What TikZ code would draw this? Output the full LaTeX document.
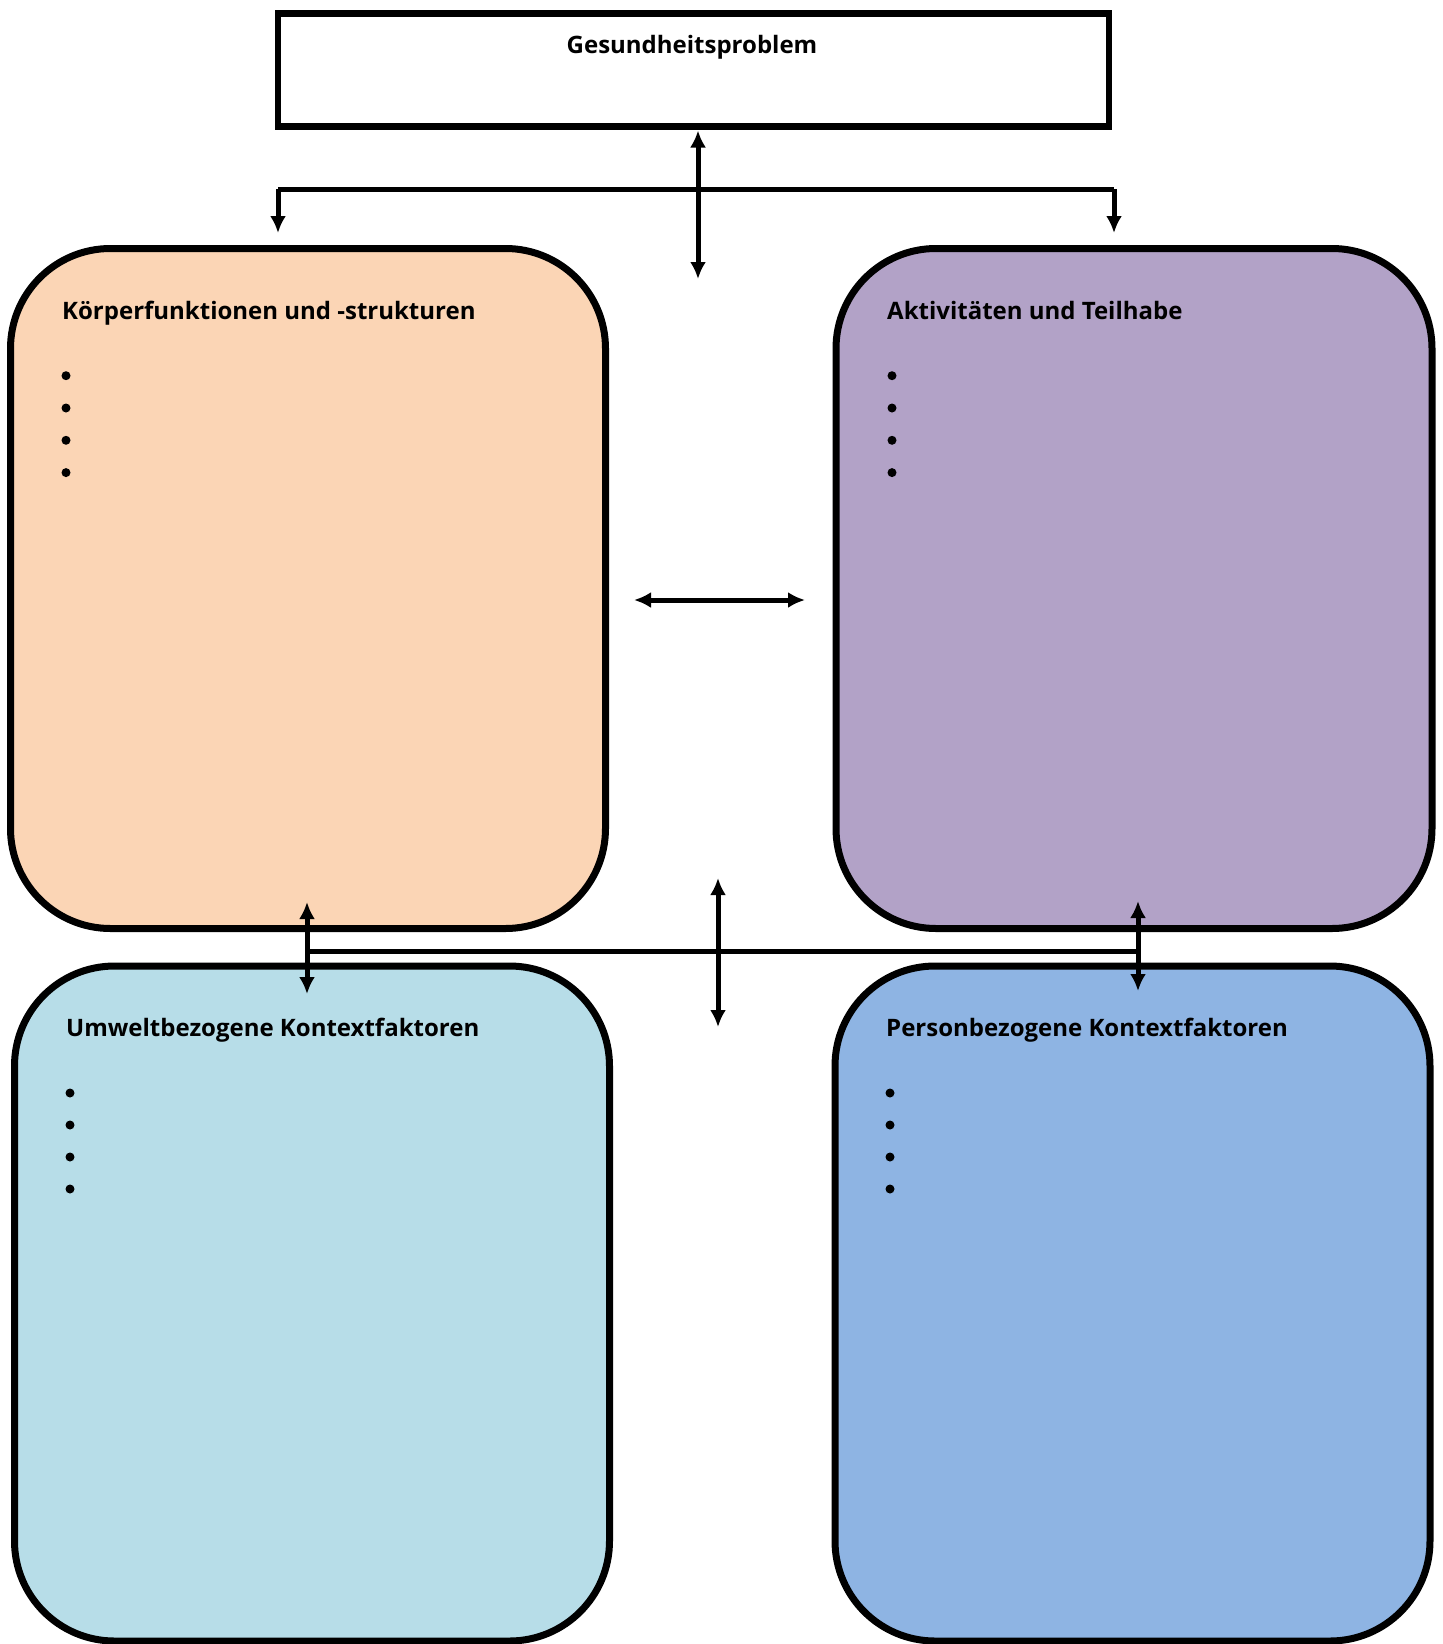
\documentclass[tikz,border=0pt]{standalone}
\usepackage{fontspec}
\setmainfont{Open Sans}
\usetikzlibrary{arrows.meta}
\definecolor{korange}{HTML}{FBD5B5}
\definecolor{kpurple}{HTML}{B2A2C7}
\definecolor{kaqua}{HTML}{B7DDE8}
\definecolor{kblue}{HTML}{8EB4E3}

\begin{document}
\begin{tikzpicture}[x=1pt,y=-1pt,
  fieldbox/.style={draw,line width=7pt,rounded corners=100pt,anchor=north west,
    inner sep=0pt,outer sep=0pt,minimum width=595pt},
  title/.style={font=\fontsize{24}{28}\selectfont\bfseries,anchor=base west,inner sep=0pt},
  bul/.style={circle,fill,inner sep=0pt,minimum size=9pt},
  conn/.style={line width=5pt},
  dbl/.style={conn,{Latex[length=17pt,width=16pt]}-{Latex[length=17pt,width=16pt]}},
  sgl/.style={conn,-{Latex[length=17pt,width=16pt]}}]

\useasboundingbox (0,0) rectangle (1443,1644);

%top box:
\node[draw,line width=6.5pt,inner sep=0pt,outer sep=0pt,minimum width=831pt,minimum height=113pt,
  anchor=north west] (gp) at (278,13.5) {};
\node[font=\fontsize{24}{28}\selectfont\bfseries,anchor=base,inner sep=0pt] (gptext) at (692,53) {Gesundheitsproblem};

%four fields
\node[fieldbox,fill=korange,minimum height=680pt] (kf) at (10.5,248.5) {};
\node[fieldbox,fill=kpurple,minimum width=596pt,minimum height=680pt] (at) at (836,248.5) {};
\node[fieldbox,fill=kaqua,minimum height=675pt] (uk) at (14.5,966) {};
\node[fieldbox,fill=kblue,minimum height=675pt] (pk) at (835,966) {};

\node[title] (kft) at (62,319) {Körperfunktionen und -strukturen};
\node[title] (att) at (887,319) {Aktivitäten und Teilhabe};
\node[title] (ukt) at (66,1036) {Umweltbezogene Kontextfaktoren};
\node[title] (pkt) at (886,1036) {Personbezogene Kontextfaktoren};

%bullets
\foreach \i in {0,...,3} {
  \node[bul] (kfb\i) at (66,375.7+32.3*\i) {};
  \node[bul] (atb\i) at (892,375.7+32.3*\i) {};
  \node[bul] (ukb\i) at (70,1093+32*\i) {};
  \node[bul] (pkb\i) at (890,1093+32*\i) {};
}

%connectors top
\coordinate (hub) at (698,279);
\coordinate (tl) at (278,189.3);
\coordinate (tr) at (1114,189.3);
\coordinate (tlend) at (278,233);
\coordinate (trend) at (1114,233);
\draw[dbl,shorten <=4pt] (gp.south -| hub) -- (hub);
\draw[conn] (tl) -- (tr);
\draw[sgl] (tl) -- (tlend);
\draw[sgl] (tr) -- (trend);

%middle
\coordinate (ml) at (634,600);
\coordinate (mr) at (805,600);
\draw[dbl] (ml) -- (mr);

%connectors bottom
\coordinate (bl) at (307,951);
\coordinate (br) at (1138,951);
\coordinate (blup) at (307,902);
\coordinate (bldn) at (307,994);
\coordinate (brup) at (1138,901);
\coordinate (brdn) at (1138,991);
\coordinate (bmup) at (718,878);
\coordinate (bmdn) at (718,1027);
\draw[conn] (bl) -- (br);
\draw[dbl] (blup) -- (bldn);
\draw[dbl] (brup) -- (brdn);
\draw[dbl] (bmup) -- (bmdn);

\end{tikzpicture}
\end{document}
